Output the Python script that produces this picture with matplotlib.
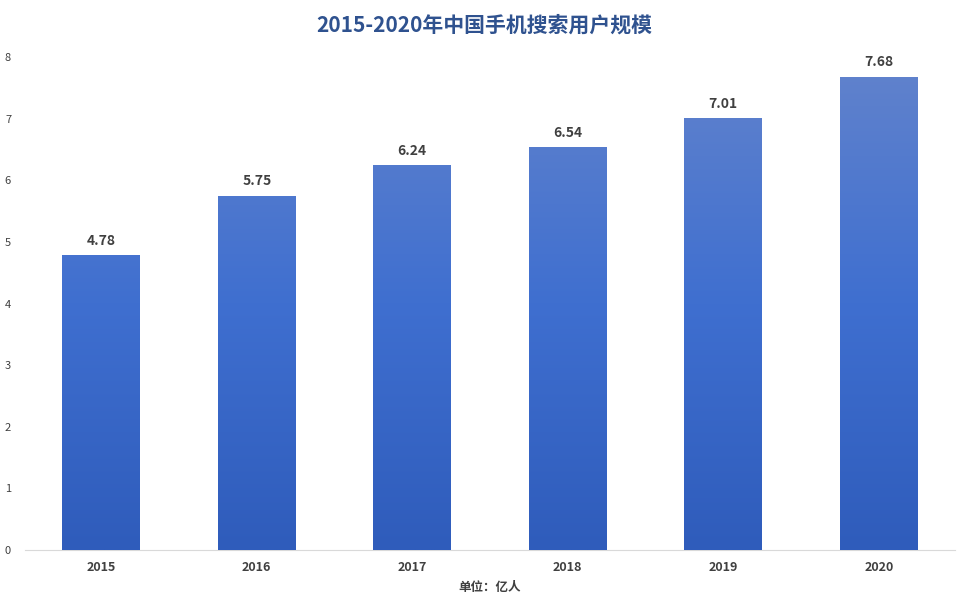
import matplotlib
matplotlib.use("Agg")
import matplotlib.pyplot as plt
import numpy as np
from matplotlib.colors import LinearSegmentedColormap

plt.rcParams['font.family'] = ['Noto Sans CJK SC', 'DejaVu Sans']

years = ["2015", "2016", "2017", "2018", "2019", "2020"]
values = [4.78, 5.75, 6.24, 6.54, 7.01, 7.68]
yticks = [0, 1, 2, 3, 4, 5, 6, 7, 8]

fig = plt.figure(figsize=(9.69, 6.08), dpi=100)
ax = fig.add_axes([25/969, 58/608, 930/969, 493/608])
x = np.arange(len(years))
bars = ax.bar(x, values, width=0.5, color='#4470cc', zorder=2)
cmap = LinearSegmentedColormap.from_list('g', ['#2f5cbb', '#3f6fd0', '#6283cc'])
grad = np.linspace(0, 1, 256).reshape(-1, 1)
for b in bars:
    im = ax.imshow(grad, cmap=cmap, aspect='auto', origin='lower',
                   extent=[b.get_x(), b.get_x()+b.get_width(), 0, 8], zorder=3)
    im.set_clip_path(b)
    ax.text(b.get_x()+b.get_width()/2, b.get_height()+0.12, f"{b.get_height():.2f}",
            ha='center', va='bottom', fontsize=10, fontweight='bold', color='#404040')
ax.set_xlim(-0.49, 5.49)
ax.set_ylim(0, 8)
ax.set_xticks(x)
ax.set_xticklabels(years, fontsize=9, fontweight='bold', color='#404040')
ax.set_yticks(yticks)
ax.set_yticklabels([str(t) for t in yticks], fontsize=8, color='#404040')
ax.tick_params(length=0, pad=8)
ax.tick_params(axis='y', pad=10)
for s in ['top', 'right', 'left']:
    ax.spines[s].set_visible(False)
ax.spines['bottom'].set_color('#d9d9d9')
fig.text(0.5, 1-25/608, "2015-2020年中国手机搜索用户规模", ha='center', va='center',
         fontsize=15, fontweight='bold', color='#2f528f')
fig.text(490/969, 1-588/608, "单位：亿人", ha='center', va='center', fontsize=9,
         fontweight='bold', color='#404040')
fig.savefig("out.png", dpi=100)
